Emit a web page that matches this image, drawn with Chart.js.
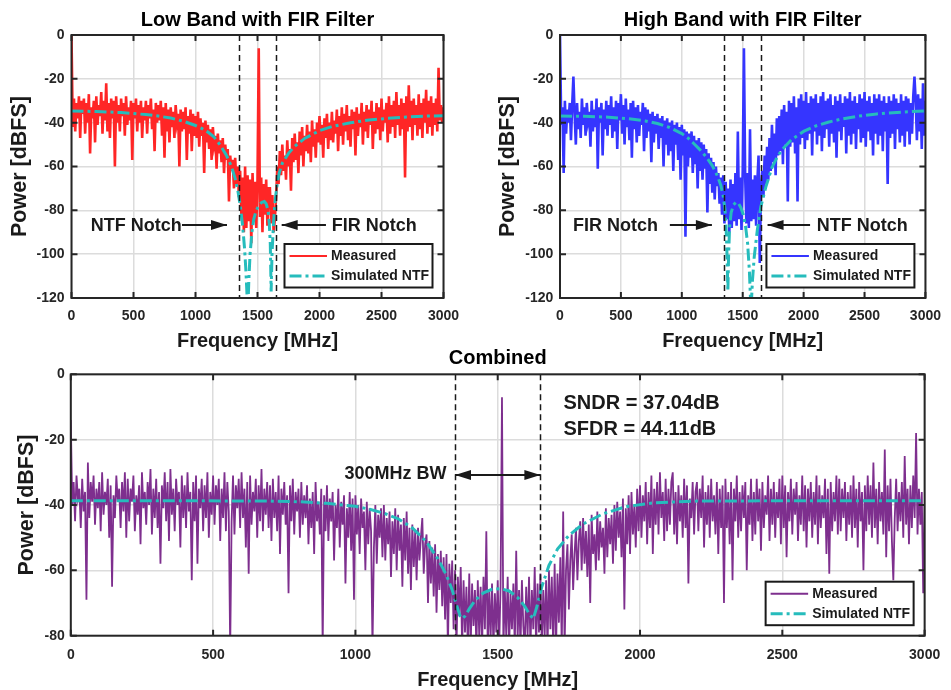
<!DOCTYPE html>
<html>
<head>
<meta charset="utf-8">
<title>Low / High Band with FIR Filter and Combined spectrum</title>
<script src="https://cdn.jsdelivr.net/npm/chart.js@4.4.1/dist/chart.umd.min.js"></script>
<style>
  html, body { margin: 0; padding: 0; background: #fff; overflow: hidden; }
  #wrap { position: relative; width: 951px; height: 690px; }
  canvas { position: absolute; }
</style>
</head>
<body>
<div id="wrap">
  <canvas id="lowChart" width="475" height="356" style="left:0;top:0"></canvas>
  <canvas id="highChart" width="476" height="356" style="left:475px;top:0"></canvas>
  <canvas id="combChart" width="951" height="352" style="left:0;top:340px"></canvas>
</div>
<script>
// ── Data ─────────────────────────────────────────────────────────

const bandStep = 10; // MHz between plotted bins, low/high band panels
const combStep = 5;  // MHz between plotted bins, combined panel
const xTicks = [0, 500, 1000, 1500, 2000, 2500, 3000];
const yTicksBand = [-120, -100, -80, -60, -40, -20, 0];
const yTicksComb = [-80, -60, -40, -20, 0];
const bwEdges = [1350, 1650];

// Low band measured, dBFS, one value per 10 MHz bin (0..3000)
const lowMeasured = [
    0, -42, -29, -44, -31, -38, -28, -47, -30, -36,
    -29, -45, -31, -40, -27, -54, -33, -38, -30, -49,
    -28, -41, -32, -37, -26, -45, -30, -39, -22, -44,
    -31, -47, -29, -38, -30, -60, -28, -40, -32, -44,
    -29, -37, -31, -46, -28, -41, -33, -39, -30, -57,
    -31, -38, -29, -44, -32, -40, -30, -47, -33, -39,
    -30, -45, -32, -38, -29, -43, -34, -53, -31, -40,
    -32, -39, -30, -46, -33, -56, -31, -44, -34, -49,
    -33, -42, -35, -47, -32, -40, -36, -60, -34, -44,
    -35, -43, -33, -57, -37, -45, -34, -53, -36, -46,
    -37, -47, -35, -51, -38, -46, -40, -63, -39, -49,
    -41, -52, -43, -57, -42, -50, -46, -61, -45, -54,
    -48, -58, -47, -63, -50, -57, -52, -76, -55, -62,
    -57, -70, -56, -68, -60, -74, -62, -82, -65, -90,
    -60, -88, -64, -85, -66, -95, -63, -84, -67, -88,
    -66, -6, -83, -65, -90, -68, -82, -66, -87, -70,
    -70, -86, -73, -90, -84, -74, -60, -68, -53, -64,
    -50, -62, -55, -66, -48, -60, -52, -71, -47, -58,
    -45, -57, -49, -63, -44, -55, -42, -60, -46, -53,
    -41, -54, -44, -58, -39, -51, -43, -56, -40, -49,
    -37, -50, -41, -56, -38, -47, -36, -52, -40, -48,
    -35, -49, -39, -45, -34, -53, -37, -46, -33, -50,
    -36, -44, -32, -48, -37, -51, -34, -43, -35, -55,
    -33, -46, -36, -42, -31, -50, -35, -44, -32, -47,
    -34, -41, -30, -52, -35, -45, -31, -43, -33, -48,
    -29, -44, -34, -40, -31, -49, -28, -45, -32, -42,
    -30, -47, -26, -41, -32, -46, -29, -43, -31, -65,
    -28, -44, -23, -42, -30, -48, -29, -41, -32, -46,
    -27, -43, -31, -47, -29, -40, -25, -45, -30, -42,
    -28, -46, -31, -41, -29, -44, -15, -39, -32, -40,
    -33,
];

// High band measured
const highMeasured = [
    0, -41, -33, -63, -30, -45, -34, -40, -31, -48,
    -32, -19, -36, -50, -31, -43, -35, -47, -29, -41,
    -33, -46, -31, -39, -35, -51, -30, -44, -34, -42,
    -29, -61, -33, -40, -31, -55, -34, -43, -30, -46,
    -32, -41, -28, -47, -33, -44, -30, -52, -31, -39,
    -27, -45, -32, -50, -29, -42, -34, -48, -31, -56,
    -30, -43, -33, -49, -32, -46, -35, -41, -31, -53,
    -33, -47, -34, -44, -36, -58, -35, -49, -37, -45,
    -36, -52, -38, -47, -37, -60, -39, -50, -38, -55,
    -40, -53, -39, -62, -41, -50, -40, -57, -42, -66,
    -41, -55, -43, -92, -44, -60, -45, -56, -44, -63,
    -46, -59, -48, -70, -47, -62, -49, -66, -50, -61,
    -52, -81, -54, -68, -56, -72, -58, -75, -60, -69,
    -63, -77, -65, -82, -64, -86, -67, -84, -70, -90,
    -66, -88, -68, -85, -63, -87, -44, -84, -65, -89,
    -62, -6, -64, -86, -63, -88, -43, -85, -66, -84,
    -64, -87, -67, -55, -104, -70, -62, -74, -55, -68,
    -51, -66, -47, -62, -41, -58, -45, -64, -38, -55,
    -37, -53, -34, -59, -32, -50, -35, -76, -30, -51,
    -31, -49, -28, -54, -33, -76, -29, -50, -27, -47,
    -30, -52, -26, -48, -31, -45, -28, -55, -29, -44,
    -27, -50, -31, -46, -28, -53, -26, -47, -30, -43,
    -29, -51, -27, -45, -32, -49, -28, -56, -30, -44,
    -27, -48, -31, -42, -28, -54, -29, -46, -26, -50,
    -30, -45, -28, -52, -31, -43, -27, -49, -29, -47,
    -26, -51, -30, -44, -28, -48, -31, -55, -27, -45,
    -29, -50, -27, -46, -30, -53, -28, -44, -31, -68,
    -28, -47, -30, -45, -27, -52, -29, -43, -31, -49,
    -27, -46, -30, -51, -28, -44, -29, -50, -31, -45,
    -28, -19, -30, -48, -27, -44, -29, -52, -22, -46,
    -30,
];

// Combined measured, one value per 5 MHz bin (values below -80 run off the floor)
const combMeasured = [
    -14, -40, -33, -45, -31, -38, -35, -47, -32, -42, -36, -69, -27, -44, -33, -39, -31, -46, -35, -41,
    -33, -48, -30, -43, -36, -40, -32, -50, -34, -65, -37, -44, -31, -39, -35, -47, -33, -42, -30, -50,
    -32, -45, -35, -39, -31, -48, -37, -43, -34, -52, -30, -41, -36, -46, -33, -40, -29, -49, -35, -44,
    -32, -47, -36, -58, -34, -41, -30, -45, -33, -51, -29, -43, -35, -48, -32, -40, -36, -53, -31, -44,
    -34, -47, -30, -42, -36, -63, -33, -45, -31, -58, -35, -41, -32, -48, -34, -44, -30, -50, -36, -43,
    -31, -46, -34, -40, -32, -51, -35, -44, -30, -48, -33, -42, -84, -45, -31, -49, -34, -41, -32, -47,
    -30, -44, -35, -53, -33, -61, -31, -46, -36, -42, -32, -50, -34, -45, -29, -48, -35, -43, -33, -47,
    -34, -51, -32, -44, -36, -48, -31, -55, -35, -43, -33, -46, -37, -67, -34, -45, -32, -49, -36, -42,
    -35, -50, -33, -46, -37, -44, -34, -52, -38, -47, -36, -55, -33, -45, -39, -49, -35, -84, -37, -48,
    -34, -51, -38, -45, -36, -57, -40, -47, -35, -53, -39, -46, -37, -64, -41, -50, -36, -54, -38, -69,
    -37, -49, -40, -55, -38, -47, -42, -60, -39, -52, -41, -48, -84, -53, -40, -58, -43, -50, -41, -56,
    -40, -57, -44, -52, -42, -62, -45, -55, -41, -60, -43, -54, -46, -65, -44, -57, -42, -61, -47, -66,
    -46, -59, -48, -63, -47, -57, -50, -44, -61, -52, -49, -70, -51, -64, -53, -68, -52, -73, -55, -66,
    -54, -71, -56, -75, -55, -84, -58, -70, -57, -78, -60, -84, -62, -74, -59, -84, -63, -79, -65, -84,
    -61, -84, -64, -77, -66, -84, -63, -80, -65, -84, -62, -78, -48, -84, -66, -81, -64, -84, -67, -79,
    -63, -84, -65, -7, -84, -66, -80, -62, -84, -67, -78, -64, -84, -54, -81, -66, -84, -63, -77, -84,
    -65, -80, -62, -84, -66, -78, -59, -84, -64, -79, -61, -84, -66, -80, -63, -84, -60, -78, -62, -84,
    -58, -84, -61, -76, -56, -84, -42, -84, -60, -52, -72, -57, -49, -66, -55, -47, -63, -51, -45, -60,
    -44, -58, -48, -62, -46, -70, -43, -55, -49, -60, -42, -57, -45, -53, -47, -61, -41, -56, -44, -52,
    -43, -58, -40, -54, -39, -50, -42, -56, -38, -72, -41, -52, -37, -55, -36, -49, -40, -53, -35, -48,
    -34, -50, -37, -45, -33, -52, -36, -47, -31, -55, -35, -46, -33, -49, -30, -44, -36, -51, -32, -48,
    -35, -46, -33, -30, -49, -36, -52, -34, -45, -37, -50, -32, -47, -34, -64, -38, -44, -33, -49, -36,
    -33, -48, -35, -44, -31, -53, -36, -46, -34, -50, -32, -45, -37, -49, -33, -55, -35, -47, -34, -70,
    -32, -47, -36, -52, -33, -63, -35, -45, -31, -50, -36, -48, -34, -44, -33, -60, -37, -46, -32, -51,
    -36, -49, -32, -45, -35, -54, -33, -47, -37, -43, -31, -51, -35, -46, -33, -50, -36, -44, -32, -52,
    -31, -47, -34, -56, -36, -45, -32, -49, -35, -43, -33, -51, -37, -46, -31, -48, -34, -53, -35, -45,
    -33, -50, -36, -46, -31, -52, -34, -47, -37, -44, -32, -55, -35, -61, -33, -48, -36, -45, -31, -49,
    -32, -48, -35, -44, -33, -51, -36, -46, -34, -50, -31, -47, -35, -53, -33, -45, -36, -60, -34, -48,
    -31, -46, -34, -50, -27, -47, -35, -52, -33, -45, -36, -49, -23, -56, -34, -48, -32, -51, -63, -44,
    -32, -48, -36, -45, -33, -50, -25, -46, -35, -52, -34, -47, -31, -44, -18, -49, -35, -46, -36, -67,
    -40,
];

// Simulated NTF curves (frequency in MHz, level in dBFS)
const lowNtfFreq = [0, 200, 400, 600, 700, 800, 900, 1000, 1050, 1100, 1150, 1200, 1250, 1290, 1320, 1340, 1360, 1380, 1395, 1405, 1415, 1422, 1430, 1440, 1455, 1470, 1490, 1510, 1535, 1555, 1570, 1585, 1595, 1603, 1610, 1617, 1628, 1640, 1655, 1675, 1700, 1750, 1800, 1880, 2000, 2100, 2250, 2400, 2550, 2700, 2850, 3000];
const lowNtfDb = [-34.7, -34.9, -35.4, -36.3, -37, -37.9, -39.3, -41.3, -42.6, -44.3, -46.6, -50.3, -55, -60, -65.5, -70.5, -77.5, -87, -97, -106, -118, -126, -112, -100, -90, -84, -80, -77.8, -76.3, -76, -77, -80, -86, -95, -117, -100, -87, -77, -69.5, -63, -58.5, -54, -50.8, -47.2, -43.6, -41.8, -40, -38.8, -38, -37.4, -37, -36.8];

const highNtfFreq = [0, 200, 400, 600, 700, 800, 900, 1000, 1050, 1100, 1150, 1200, 1250, 1290, 1320, 1340, 1355, 1365, 1372, 1378, 1384, 1392, 1405, 1425, 1445, 1465, 1485, 1505, 1525, 1540, 1555, 1568, 1580, 1595, 1620, 1648, 1690, 1740, 1780, 1820, 1900, 2000, 2100, 2200, 2300, 2450, 2600, 2800, 3000];
const highNtfDb = [-37, -37.1, -37.5, -38.4, -39.2, -40.4, -42.2, -45, -47, -49.6, -52.4, -55.6, -59.6, -64, -68.5, -73.5, -80, -90, -102, -117, -101, -88, -81, -77.5, -76.3, -76.8, -78.8, -82, -88, -95, -108, -126, -112, -101, -89, -78.5, -69.3, -60.5, -56, -52.5, -47.8, -44, -41.5, -39.8, -38.5, -37, -36, -35.2, -34.6];

const combNtfFreq = [0, 400, 700, 800, 900, 1000, 1050, 1100, 1150, 1200, 1250, 1290, 1320, 1340, 1355, 1368, 1376, 1385, 1400, 1420, 1450, 1480, 1510, 1540, 1570, 1595, 1612, 1625, 1638, 1655, 1680, 1710, 1750, 1800, 1870, 1950, 2050, 2200, 2500, 3000];
const combNtfDb = [-38.7, -38.7, -38.8, -39, -39.5, -40.4, -41.3, -42.5, -44.2, -47, -51.3, -56.5, -61.5, -66, -70.5, -74, -74.8, -74, -71.8, -69.2, -66.9, -65.8, -65.6, -66.3, -68.3, -71, -73.5, -74.8, -71, -65, -58.5, -53.5, -49.3, -45.8, -42.7, -40.5, -39.3, -38.8, -38.7, -38.7];

// ── Styling ──────────────────────────────────────────────────────

const FONT = "'Liberation Sans', Arial, Helvetica, sans-serif";
const INK = '#1a1a1a';
const NTF_COLOR = '#26bcbc';
const NTF_DASH = [12, 4, 3, 4];

Chart.defaults.font.family = FONT;

const binPoints = (vals, step) => vals.map((v, i) => ({ x: i * step, y: v }));
const pairPoints = (fs, vs) => fs.map((f, i) => ({ x: f, y: vs[i] }));

// ── Decoration plugin: band-edge lines, notes, box frame, legend ─

function drawArrow(ctx, x1, y, x2, both) {
    const head = 16, half = 5;
    ctx.beginPath();
    ctx.moveTo(x1, y);
    ctx.lineTo(x2, y);
    ctx.stroke();
    const tip = (x, dir) => {
        ctx.beginPath();
        ctx.moveTo(x, y);
        ctx.lineTo(x - dir * head, y - half);
        ctx.lineTo(x - dir * head, y + half);
        ctx.closePath();
        ctx.fill();
    };
    tip(x2, Math.sign(x2 - x1));
    if (both) tip(x1, Math.sign(x1 - x2));
}

const decorPlugin = {
    id: 'decor',
    afterDatasetsDraw(chart, args, opts) {
        const { ctx, chartArea: a, scales: { x, y } } = chart;
        ctx.save();

        // dashed band edges
        ctx.strokeStyle = INK;
        ctx.lineWidth = 1.5;
        ctx.setLineDash([6, 4]);
        for (const f of bwEdges) {
            const px = Math.round(x.getPixelForValue(f)) + 0.5;
            ctx.beginPath();
            ctx.moveTo(px, a.top);
            ctx.lineTo(px, a.bottom);
            ctx.stroke();
        }
        ctx.setLineDash([]);

        // arrows
        ctx.fillStyle = INK;
        ctx.lineWidth = 2;
        for (const ar of opts.arrows || []) {
            drawArrow(ctx, x.getPixelForValue(ar.from), y.getPixelForValue(ar.db), x.getPixelForValue(ar.to), ar.both);
        }

        // text notes
        ctx.textBaseline = 'middle';
        for (const n of opts.notes || []) {
            ctx.font = `bold ${n.size}px ${FONT}`;
            ctx.textAlign = n.align;
            ctx.fillText(n.text, x.getPixelForValue(n.f), y.getPixelForValue(n.db));
        }

        // axes box with inward tick marks
        ctx.strokeStyle = '#262626';
        ctx.lineWidth = 2;
        ctx.strokeRect(a.left, a.top, a.right - a.left, a.bottom - a.top);
        const tl = 6;
        ctx.beginPath();
        for (const t of xTicks) {
            const px = x.getPixelForValue(t);
            ctx.moveTo(px, a.top); ctx.lineTo(px, a.top + tl);
            ctx.moveTo(px, a.bottom); ctx.lineTo(px, a.bottom - tl);
        }
        for (const t of opts.yTicks) {
            const py = y.getPixelForValue(t);
            ctx.moveTo(a.left, py); ctx.lineTo(a.left + tl, py);
            ctx.moveTo(a.right, py); ctx.lineTo(a.right - tl, py);
        }
        ctx.stroke();

        // legend box (south-east corner)
        const w = 148, h = 43.5;
        const lx = a.right - 11 - w, ly = a.bottom - 10.5 - h;
        ctx.fillStyle = '#fff';
        ctx.fillRect(lx, ly, w, h);
        ctx.strokeStyle = INK;
        ctx.lineWidth = 2;
        ctx.strokeRect(lx, ly, w, h);
        chart.data.datasets.forEach((ds, i) => {
            const ry = ly + 12 + i * 20;
            ctx.strokeStyle = ds.borderColor;
            ctx.lineWidth = i === 0 ? 2 : 3;
            ctx.setLineDash(ds.borderDash || []);
            ctx.beginPath();
            ctx.moveTo(lx + 5, ry);
            ctx.lineTo(lx + 42.5, ry);
            ctx.stroke();
            ctx.setLineDash([]);
            ctx.fillStyle = INK;
            ctx.font = `bold 14px ${FONT}`;
            ctx.textAlign = 'left';
            ctx.fillText(ds.label, lx + 46.5, ry);
        });

        ctx.restore();
    },
};

// ── Panel factory ────────────────────────────────────────────────

function makePanel(id, p) {
    return new Chart(document.getElementById(id), {
        type: 'line',
        plugins: [decorPlugin],
        data: {
            datasets: [
                {
                    label: 'Measured',
                    data: binPoints(p.measured, p.step),
                    borderColor: p.color,
                    borderWidth: p.lineW,
                    pointRadius: 0,
                    tension: 0,
                    order: 1,
                },
                {
                    // drawn on top of the measured trace
                    label: 'Simulated NTF',
                    data: pairPoints(p.ntfFreq, p.ntfDb),
                    borderColor: NTF_COLOR,
                    borderWidth: 3,
                    borderDash: NTF_DASH,
                    pointRadius: 0,
                    tension: 0,
                    order: 0,
                },
            ],
        },
        options: {
            responsive: false,
            animation: false,
            devicePixelRatio: 1,
            events: [],
            layout: { padding: { left: 0, right: p.padRight, top: 0, bottom: 0 } },
            plugins: {
                legend: { display: false },
                tooltip: { enabled: false },
                title: {
                    display: true,
                    text: p.title,
                    fullSize: false,
                    color: '#000',
                    font: { size: 20, weight: 'bold', lineHeight: 1.2 },
                    padding: p.titlePad,
                },
                decor: { arrows: p.arrows, notes: p.notes, yTicks: p.yTicks },
            },
            scales: {
                x: {
                    type: 'linear',
                    min: 0,
                    max: 3000,
                    afterBuildTicks: s => { s.ticks = xTicks.map(v => ({ value: v })); },
                    afterFit: s => { s.height = p.xAxisH; },
                    ticks: {
                        autoSkip: false,
                        maxRotation: 0,
                        padding: p.xTickPad,
                        color: '#262626',
                        font: { size: 14, weight: 'bold' },
                        callback: v => String(v),
                    },
                    grid: { color: '#dcdcdc', lineWidth: 1.5, drawTicks: false },
                    border: { display: false },
                    title: {
                        display: true,
                        text: 'Frequency [MHz]',
                        color: INK,
                        font: { size: 20, weight: 'bold', lineHeight: 1.2 },
                        padding: { top: 0, bottom: p.xTitlePad },
                    },
                },
                y: {
                    type: 'linear',
                    min: p.yTicks[0],
                    max: 0,
                    afterBuildTicks: s => { s.ticks = p.yTicks.map(v => ({ value: v })); },
                    afterFit: s => { s.width = p.yAxisW; },
                    ticks: {
                        padding: p.yTickPad,
                        color: '#262626',
                        font: { size: 14, weight: 'bold' },
                        callback: v => String(v),
                    },
                    grid: { color: '#dcdcdc', lineWidth: 1.5, drawTicks: false },
                    border: { display: false },
                    title: {
                        display: true,
                        text: 'Power [dBFS]',
                        color: INK,
                        font: { size: 21.5, weight: 'bold', lineHeight: 1.2 },
                        padding: { top: p.yTitlePad, bottom: 0 },
                    },
                },
            },
        },
    });
}

// ── Build the three panels ───────────────────────────────────────

makePanel('lowChart', {
    title: 'Low Band with FIR Filter',
    color: '#ff2626',
    measured: lowMeasured,
    step: bandStep,
    lineW: 2.6,
    ntfFreq: lowNtfFreq,
    ntfDb: lowNtfDb,
    yTicks: yTicksBand,
    padRight: 31.5,
    yAxisW: 71.5,
    xAxisH: 58,
    titlePad: { top: 8.2, bottom: 2.8 },
    xTickPad: 10,
    xTitlePad: 2.8,
    yTickPad: 7,
    yTitlePad: 6.9,
    notes: [
        { text: 'NTF Notch', f: 155, db: -87, align: 'left', size: 18 },
        { text: 'FIR Notch', f: 2098, db: -87, align: 'left', size: 18 },
    ],
    arrows: [
        { from: 891, to: 1254, db: -86.7 },
        { from: 2052, to: 1695, db: -86.7 },
    ],
});

makePanel('highChart', {
    title: 'High Band with FIR Filter',
    color: '#3535ff',
    measured: highMeasured,
    step: bandStep,
    lineW: 2.6,
    ntfFreq: highNtfFreq,
    ntfDb: highNtfDb,
    yTicks: yTicksBand,
    padRight: 18.3,
    yAxisW: 85,
    xAxisH: 58,
    titlePad: { top: 8.2, bottom: 2.8 },
    xTickPad: 10,
    xTitlePad: 2.8,
    yTickPad: 6.7,
    yTitlePad: 20.4,
    notes: [
        { text: 'FIR Notch', f: 107, db: -87, align: 'left', size: 18 },
        { text: 'NTF Notch', f: 2107, db: -87, align: 'left', size: 18 },
    ],
    arrows: [
        { from: 902, to: 1247, db: -86.7 },
        { from: 2053, to: 1704, db: -86.7 },
    ],
});

makePanel('combChart', {
    title: 'Combined',
    color: '#7e2f8e',
    measured: combMeasured,
    step: combStep,
    lineW: 1.8,
    ntfFreq: combNtfFreq,
    ntfDb: combNtfDb,
    yTicks: yTicksComb,
    padRight: 18,
    yAxisW: 70.8,
    xAxisH: 56.3,
    titlePad: { top: 6.5, bottom: 3.8 },
    xTickPad: 10.8,
    xTitlePad: 0,
    yTickPad: 6,
    yTitlePad: 14.4,
    notes: [
        { text: '300MHz BW', f: 1320, db: -30.6, align: 'right', size: 18 },
        { text: 'SNDR = 37.04dB', f: 1731, db: -8.8, align: 'left', size: 20 },
        { text: 'SFDR = 44.11dB', f: 1731, db: -17, align: 'left', size: 20 },
    ],
    arrows: [
        { from: 1350, to: 1650, db: -30.8, both: true },
    ],
});
</script>
</body>
</html>
